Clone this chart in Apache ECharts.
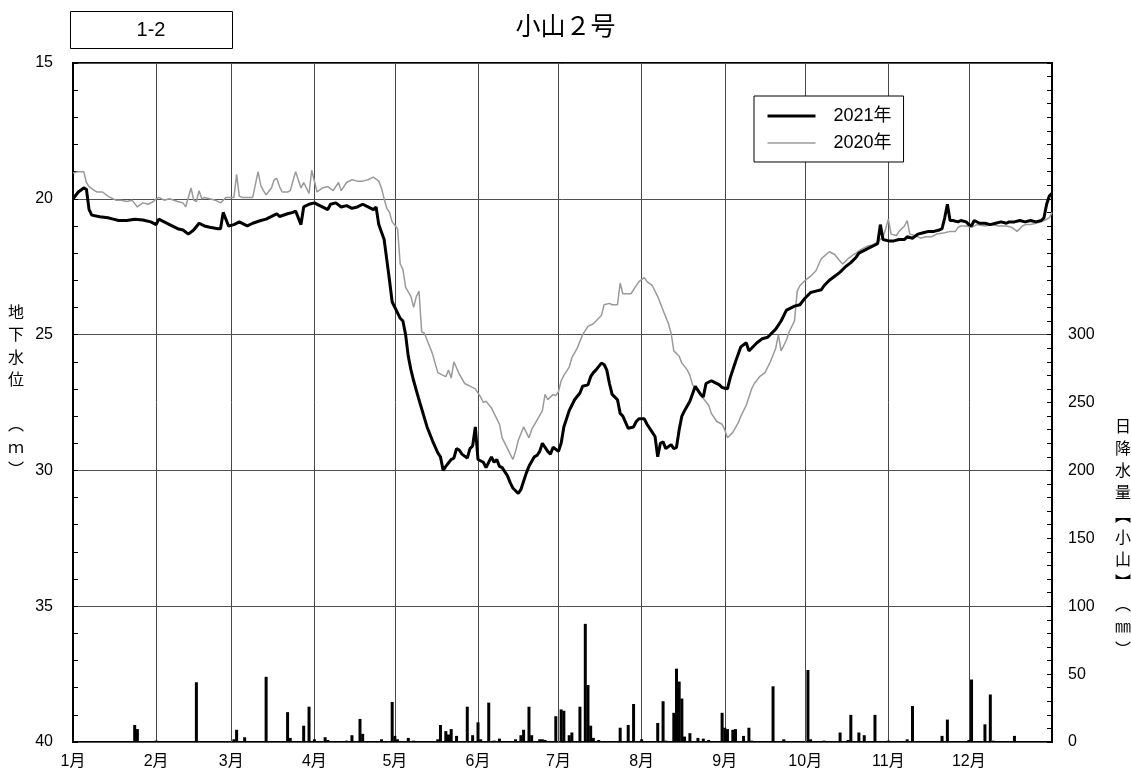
<!DOCTYPE html>
<html><head><meta charset="utf-8">
<script src="https://cdn.jsdelivr.net/npm/echarts@6/dist/echarts.min.js"></script>
<style>html,body{margin:0;padding:0;background:#fff}#c{width:1131px;height:781px}</style>
</head><body><div id="c"></div>
<script>
// x axis: day of year (0 = Jan 1)
const monthStarts = [0,31,59,90,120,151,181,212,243,273,304,334];
const monthLabels = ['1月','2月','3月','4月','5月','6月','7月','8月','9月','10月','11月','12月'];
const levelTicks = [15,20,25,30,35,40];

// groundwater level 2021 (m)
const days2021 = [0,2,4,5,6,7,10,13,15,17,20,23,26,29,31,32,34,36,39,41,43,45,47,49,51,54,55,56,58,60,62,64,65,67,70,72,75,76,77,80,82,83,85,86,88,90,92,95,96,98,100,102,104,106,108,110,112,113,114,116,117,118,119,121,122,123,124,125,126,127,129,132,134,136,137,138,139,141,142,143,144,145,147,148,149,150,151,153,154,156,157,158,159,160,162,163,164,166,167,168,169,170,172,173,174,175,177,178,179,181,182,183,185,187,189,190,192,193,194,195,197,198,199,200,201,203,204,205,207,209,210,211,213,214,216,217,218,219,220,221,223,224,225,226,227,228,230,232,234,235,236,238,239,241,242,244,245,247,249,251,252,253,255,257,259,262,264,266,267,269,271,273,275,277,279,280,282,284,286,288,290,292,293,295,297,299,300,301,302,304,306,308,310,311,313,315,317,319,321,323,324,325,326,327,328,330,331,333,334,335,336,338,340,342,344,346,348,349,351,353,355,357,359,361,362,363,364,365];
const level2021 = [20.0,19.75,19.6,19.65,20.4,20.6,20.66,20.7,20.75,20.8,20.8,20.75,20.78,20.85,20.95,20.75,20.85,20.95,21.1,21.15,21.3,21.15,20.9,21.0,21.05,21.1,21.1,20.5,21.0,20.95,20.85,20.95,21.0,20.9,20.8,20.75,20.6,20.55,20.65,20.55,20.5,20.45,20.95,20.3,20.2,20.15,20.25,20.4,20.2,20.15,20.3,20.25,20.35,20.3,20.2,20.3,20.4,20.3,20.95,21.5,22.25,23.0,23.8,24.2,24.4,24.5,25.0,25.8,26.3,26.7,27.4,28.4,28.9,29.35,29.5,30.0,29.85,29.6,29.55,29.2,29.25,29.4,29.55,29.2,29.1,28.4,29.6,29.7,29.9,29.5,29.7,29.6,29.85,29.9,30.2,30.45,30.65,30.85,30.7,30.4,30.1,29.85,29.5,29.45,29.3,29.0,29.3,29.4,29.15,29.3,29.0,28.4,27.8,27.4,27.15,26.9,26.85,26.55,26.4,26.3,26.05,26.1,26.3,26.8,27.2,27.4,27.9,28.0,28.45,28.4,28.2,28.1,28.1,28.3,28.6,28.75,29.5,29.0,28.95,29.2,29.05,29.2,29.15,28.5,28.0,27.8,27.45,26.9,27.2,27.3,26.8,26.7,26.75,26.85,26.95,27.0,26.6,26.0,25.45,25.3,25.6,25.5,25.3,25.15,25.1,24.8,24.5,24.1,24.05,23.95,23.9,23.65,23.45,23.4,23.35,23.2,23.0,22.85,22.7,22.5,22.35,22.15,22.0,21.9,21.8,21.7,21.65,20.95,21.5,21.55,21.55,21.5,21.5,21.4,21.45,21.3,21.25,21.2,21.2,21.15,21.1,20.7,20.2,20.8,20.8,20.85,20.8,20.85,20.95,21.0,20.8,20.9,20.9,20.95,20.9,20.85,20.9,20.85,20.85,20.8,20.85,20.8,20.85,20.8,20.7,20.2,19.9,19.8];

// groundwater level 2020 (m)
const days2020 = [0,2,4,5,6,8,9,11,13,15,16,18,20,22,24,26,28,30,31,32,34,36,39,41,42,44,45,46,47,48,49,51,53,55,56,57,59,60,61,62,63,65,67,69,70,71,72,74,75,76,77,78,80,81,83,85,86,88,89,91,93,95,97,99,100,102,104,106,108,110,112,114,115,116,117,118,119,121,122,123,124,126,127,128,129,130,131,132,134,136,138,139,140,141,142,144,146,148,150,152,153,154,156,157,159,160,162,164,165,166,168,169,170,171,173,175,176,177,179,180,181,182,183,185,186,188,190,192,194,195,197,198,200,201,203,204,205,207,208,209,210,211,213,214,216,218,220,222,223,224,226,227,229,230,231,233,235,237,238,240,242,243,244,246,248,249,251,253,254,256,258,260,262,263,264,266,267,269,270,271,273,275,277,279,282,284,286,287,289,291,292,294,296,298,300,302,303,304,305,307,308,310,311,312,314,316,318,320,322,325,327,329,330,331,333,335,337,340,343,345,348,350,352,354,355,357,359,361,362,364,365];
const level2020 = [19.05,19.0,19.0,19.4,19.55,19.7,19.75,19.75,19.9,20.0,20.05,20.05,20.1,20.05,20.3,20.15,20.2,20.1,20.0,19.95,20.05,20.0,20.1,20.15,20.3,19.6,20.05,20.1,19.7,20.0,19.95,20.0,20.05,20.15,20.05,19.95,19.95,19.95,19.1,19.9,19.95,19.95,19.95,19.0,19.5,19.7,19.85,19.6,19.3,19.25,19.55,19.75,19.75,19.7,19.0,19.6,19.4,19.8,18.95,19.75,19.6,19.55,19.7,19.4,19.7,19.4,19.3,19.35,19.35,19.3,19.2,19.35,19.6,20.0,20.35,20.5,20.85,21.1,22.4,22.6,23.25,23.6,24.0,23.6,23.4,24.9,24.95,25.2,25.7,26.4,26.5,26.55,26.3,26.6,26.0,26.45,26.8,26.9,27.0,27.3,27.5,27.45,27.7,27.9,28.3,28.8,29.2,29.6,29.3,28.9,28.4,28.6,28.8,28.5,28.15,27.8,27.2,27.4,27.2,27.25,27.1,26.7,26.5,26.2,25.85,25.5,25.0,24.7,24.6,24.5,24.3,23.9,23.85,23.9,23.9,23.1,23.5,23.5,23.5,23.35,23.2,23.05,22.9,23.05,23.2,23.6,24.1,24.6,24.95,25.6,25.8,26.05,26.3,26.5,26.85,27.1,27.35,27.6,27.9,28.2,28.3,28.5,28.8,28.6,28.25,28.0,27.6,27.0,26.8,26.55,26.4,26.0,25.5,25.0,25.6,25.2,24.9,24.5,23.4,23.2,23.0,22.85,22.65,22.2,21.95,22.05,22.3,22.4,22.2,22.05,22.0,21.85,21.75,21.7,21.6,21.4,21.1,20.75,21.3,21.35,21.2,21.0,20.8,21.3,21.35,21.45,21.4,21.4,21.3,21.25,21.2,21.2,21.05,21.0,21.0,21.05,20.95,21.0,20.95,21.0,21.0,21.05,21.2,21.0,20.95,20.95,20.9,20.85,20.8,20.7,20.5];

// daily precipitation (mm)
const rainDays = [23,24,31,46,60,61,64,72,80,81,86,88,90,94,95,102,104,107,108,115,119,120,121,125,127,136,137,139,140,141,143,147,149,151,152,155,157,159,165,167,168,170,171,174,175,176,180,182,183,185,186,189,191,192,193,194,196,204,207,209,212,218,220,221,224,225,226,227,228,230,233,235,237,242,243,244,246,247,250,252,253,261,265,274,275,280,286,289,290,293,295,299,304,311,313,324,326,334,335,340,342,343,351];
const rainValues = [12.5,9.5,1,44,2,9,3.5,48,22,3,12,26,2,3.5,1.5,1,5,17,6,2,29.5,4.5,2,3,1,2,12.5,8,5.5,9.5,4.5,26,5,14.5,2,29,1,2.5,2,5,9,26,5,2,2,1.5,19,24,23,5,7,26,87,42,12,3,1.5,10.5,12.5,28,2,14,30,1,21.5,54,44.5,32,4,6.5,3,2.5,1.5,21.5,10.5,9.5,9,9.5,4.5,10.5,1,41,2,53,2,1,7,1.5,20,7,5,20,1,2,26.5,4.5,16.5,1.5,46,13,35,1,4.5];

const FONT = "'Liberation Sans','Noto Sans CJK JP',sans-serif";
const zip = (a, b) => a.map((d, i) => [d, b[i]]);

const chart = echarts.init(document.getElementById('c'), null, {renderer: 'canvas'});
chart.setOption({
  animation: false,
  backgroundColor: '#fff',
  textStyle: {fontFamily: FONT},
  title: {
    text: '小山２号', left: 'center', top: 16, padding: 0,
    textStyle: {fontFamily: FONT, fontSize: 25, fontWeight: 'normal', color: '#000'}
  },
  legend: {
    data: [
      {name: '2021年', lineStyle: {width: 3, color: '#000'}},
      {name: '2020年', lineStyle: {width: 1.5, color: '#9a9a9a'}}
    ],
    orient: 'vertical', left: 754, top: 96,
    padding: [11, 12, 10, 12], itemGap: 9, itemWidth: 48, itemHeight: 14,
    borderColor: '#000', borderWidth: 1, backgroundColor: '#fff',
    itemStyle: {opacity: 0},
    textStyle: {fontFamily: FONT, fontSize: 18, color: '#000', padding: [0, 0, 0, 13]}
  },
  grid: {left: 73, right: 79, top: 63, bottom: 39, show: true, borderColor: '#000', borderWidth: 2},
  xAxis: {
    type: 'value', min: 0, max: 365,
    axisLine: {show: false},
    axisTick: {show: false, customValues: monthStarts},
    axisLabel: {
      customValues: monthStarts, color: '#000', fontSize: 16, margin: 12,
      formatter: v => monthLabels[monthStarts.indexOf(v)] || ''
    },
    splitLine: {show: true, lineStyle: {color: '#484848', width: 1}}
  },
  yAxis: [{
    type: 'value', inverse: true, min: levelTicks[0], max: levelTicks[levelTicks.length - 1], interval: 5,
    axisLine: {show: true, lineStyle: {color: '#000', width: 2}},
    axisTick: {show: true, inside: true, length: 5, lineStyle: {color: '#000', width: 1}},
    minorTick: {show: true, splitNumber: 5, length: 5, lineStyle: {color: '#000', width: 1}},
    axisLabel: {color: '#000', fontSize: 16, margin: 20},
    splitLine: {show: true, lineStyle: {color: '#505050', width: 1}}
  }, {
    type: 'value', position: 'right', min: 0, max: 500, interval: 50,
    axisLine: {show: true, lineStyle: {color: '#000', width: 2}},
    axisTick: {show: true, inside: true, length: 5, lineStyle: {color: '#000', width: 1}},
    minorTick: {show: true, splitNumber: 5, length: 5, lineStyle: {color: '#000', width: 1}},
    axisLabel: {color: '#000', fontSize: 16, margin: 16, formatter: v => (v <= 300 ? String(v) : '')},
    splitLine: {show: false}
  }],
  series: [{
    name: '日降水量', type: 'bar', yAxisIndex: 1, barWidth: 3,
    itemStyle: {color: '#000'}, data: zip(rainDays, rainValues)
  }, {
    name: '2020年', type: 'line', symbol: 'none', yAxisIndex: 0,
    lineStyle: {color: '#9a9a9a', width: 1.5}, itemStyle: {color: '#9a9a9a'},
    data: zip(days2020, level2020)
  }, {
    name: '2021年', type: 'line', symbol: 'none', yAxisIndex: 0,
    lineStyle: {color: '#000', width: 3}, itemStyle: {color: '#000'},
    data: zip(days2021, level2021)
  }],
  graphic: [{
    type: 'rect', shape: {x: 70.5, y: 11.5, width: 162, height: 37},
    style: {fill: '#fff', stroke: '#000', lineWidth: 1}
  }, {
    type: 'text', x: 151, y: 30,
    style: {text: '1-2', font: '20px ' + FONT, fill: '#000', textAlign: 'center', textVerticalAlign: 'middle'}
  }, {
    type: 'text', x: 16, y: 302,
    style: {text: '地\n下\n水\n位\n\n︵\nｍ\n︶', font: '16px ' + FONT, lineHeight: 22.5, fill: '#000', textAlign: 'center', textVerticalAlign: 'top'}
  }, {
    type: 'text', x: 1123, y: 416,
    style: {text: '日\n降\n水\n量\n︻\n小\n山\n︼\n︵\n㎜\n︶', font: '16px ' + FONT, lineHeight: 22.3, fill: '#000', textAlign: 'center', textVerticalAlign: 'top'}
  }]
});
</script></body></html>
